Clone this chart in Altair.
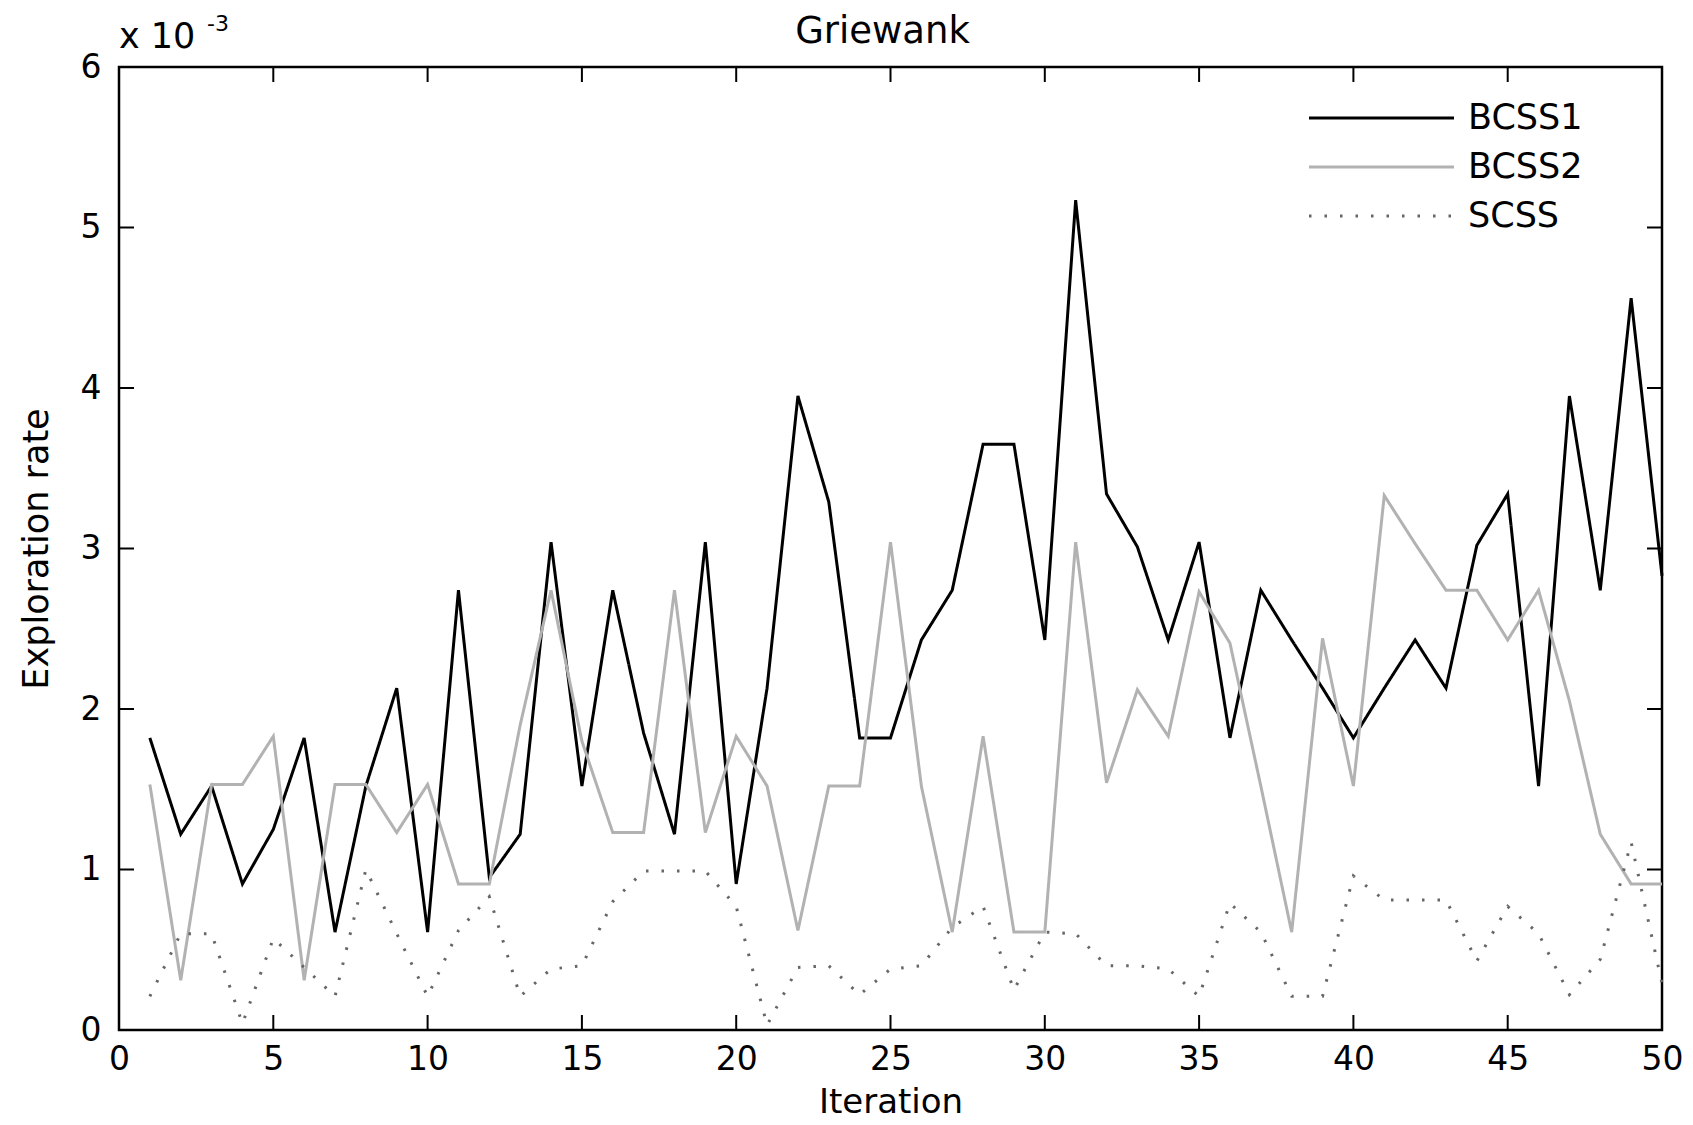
import altair as alt
import pandas as pd

# ---- data (values in units of 1e-3) ----
iterations = list(range(1, 51))
bcss1 = [1.82, 1.22, 1.52, 0.91, 1.25, 1.82, 0.61, 1.52, 2.13, 0.61,
         2.74, 0.95, 1.22, 3.04, 1.52, 2.74, 1.85, 1.22, 3.04, 0.91,
         2.13, 3.95, 3.29, 1.82, 1.82, 2.43, 2.74, 3.65, 3.65, 2.43,
         5.17, 3.34, 3.01, 2.43, 3.04, 1.82, 2.74, 2.43, 2.13, 1.82,
         2.13, 2.43, 2.13, 3.02, 3.34, 1.52, 3.95, 2.74, 4.56, 2.83]
bcss2 = [1.53, 0.31, 1.53, 1.53, 1.83, 0.31, 1.53, 1.53, 1.23, 1.53,
         0.91, 0.91, 1.90, 2.74, 1.80, 1.23, 1.23, 2.74, 1.23, 1.83,
         1.52, 0.62, 1.52, 1.52, 3.04, 1.52, 0.61, 1.83, 0.61, 0.61,
         3.04, 1.54, 2.12, 1.83, 2.73, 2.41, 1.52, 0.61, 2.44, 1.52,
         3.33, 3.03, 2.74, 2.74, 2.43, 2.74, 2.05, 1.22, 0.91, 0.91]
scss = [0.21, 0.60, 0.60, 0.04, 0.57, 0.39, 0.21, 1.00, 0.60, 0.21,
        0.62, 0.83, 0.21, 0.38, 0.40, 0.80, 0.99, 0.99, 0.99, 0.77,
        0.03, 0.39, 0.40, 0.22, 0.38, 0.40, 0.64, 0.77, 0.25, 0.61,
        0.60, 0.40, 0.40, 0.38, 0.21, 0.79, 0.61, 0.21, 0.21, 0.96,
        0.81, 0.81, 0.81, 0.43, 0.77, 0.60, 0.22, 0.44, 1.17, 0.29]
series_names = ["BCSS1", "BCSS2", "SCSS"]
x_ticks = list(range(0, 51, 5))
y_ticks = list(range(0, 7))

W, H = 1543, 963
FONT = "DejaVu Sans"
TICK = 15

rows = []
for name, vals in zip(series_names, [bcss1, bcss2, scss]):
    for it, v in zip(iterations, vals):
        rows.append({"Iteration": it, "rate": v, "series": name})
df = pd.DataFrame(rows)

color_scale = alt.Scale(domain=series_names, range=["#000000", "#b2b2b2", "#666666"])
dash_scale = alt.Scale(domain=series_names, range=[[1, 0], [1, 0], [2.5, 13]])
x_scale = alt.Scale(domain=[0, 50], nice=False, zero=False)
y_scale = alt.Scale(domain=[0, 6], nice=False)

lines = alt.Chart(df).mark_line(strokeWidth=3, strokeCap="butt").encode(
    x=alt.X("Iteration:Q", scale=x_scale,
            axis=alt.Axis(values=x_ticks, ticks=False, domain=False, grid=False,
                          format="d",
                          labelFontSize=33, labelFont=FONT, labelColor="black",
                          labelPadding=13, labelFlush=False, labelOverlap=False,
                          title="Iteration", titleFont=FONT, titleFontSize=34,
                          titleFontWeight="normal", titleColor="black",
                          titleX=W / 2, titleY=72, titleBaseline="middle")),
    y=alt.Y("rate:Q", scale=y_scale,
            axis=alt.Axis(values=y_ticks, ticks=False, domain=False, grid=False,
                          format="d",
                          labelFontSize=33, labelFont=FONT, labelColor="black",
                          labelPadding=18, labelFlush=False, labelOverlap=False,
                          title="Exploration rate", titleFont=FONT, titleFontSize=35,
                          titleFontWeight="normal", titleColor="black",
                          titleX=-83, titleY=H / 2, titleBaseline="middle",
                          titleAngle=270)),
    color=alt.Color("series:N", scale=color_scale, legend=None),
    strokeDash=alt.StrokeDash("series:N", scale=dash_scale, legend=None),
)

xt = pd.DataFrame({"Iteration": x_ticks})
yt = pd.DataFrame({"rate": y_ticks})
rule = dict(color="black", strokeWidth=2)
x_bottom = alt.Chart(xt).mark_rule(**rule).encode(
    x=alt.X("Iteration:Q", scale=x_scale), y=alt.value(H), y2=alt.value(H - TICK))
x_top = alt.Chart(xt).mark_rule(**rule).encode(
    x=alt.X("Iteration:Q", scale=x_scale), y=alt.value(0), y2=alt.value(TICK))
y_left = alt.Chart(yt).mark_rule(**rule).encode(
    y=alt.Y("rate:Q", scale=y_scale), x=alt.value(0), x2=alt.value(TICK))
y_right = alt.Chart(yt).mark_rule(**rule).encode(
    y=alt.Y("rate:Q", scale=y_scale), x=alt.value(W), x2=alt.value(W - TICK))

leg_df = pd.DataFrame({"series": series_names, "idx": [0, 1, 2]})
leg_base = alt.Chart(leg_df).transform_calculate(ly="51 + datum.idx * 49")
leg_lines = leg_base.mark_rule(strokeWidth=3, strokeCap="butt").encode(
    x=alt.value(1190), x2=alt.value(1335),
    y=alt.Y("ly:Q", scale=None, axis=None),
    color=alt.Color("series:N", scale=color_scale, legend=None),
    strokeDash=alt.StrokeDash("series:N", scale=dash_scale, legend=None),
)
leg_text = leg_base.mark_text(align="left", baseline="middle", fontSize=35,
                              font=FONT, color="black").encode(
    x=alt.value(1349), y=alt.Y("ly:Q", scale=None, axis=None), text="series:N")

title_df = pd.DataFrame({"t": ["Griewank"]})
title = alt.Chart(title_df).mark_text(align="center", baseline="alphabetic", fontSize=37,
                                      font=FONT, color="black").encode(
    x=alt.value(W / 2 - 8), y=alt.value(-24), text="t:N")
exp_df = pd.DataFrame({"a": ["x 10"], "b": ["-3"]})
exp_main = alt.Chart(exp_df).mark_text(align="left", baseline="alphabetic", fontSize=35,
                                       font=FONT, color="black").encode(
    x=alt.value(0), y=alt.value(-19), text="a:N")
exp_sup = alt.Chart(exp_df).mark_text(align="left", baseline="alphabetic", fontSize=22,
                                      font=FONT, color="black").encode(
    x=alt.value(88), y=alt.value(-36), text="b:N")

chart = alt.layer(
    lines, x_bottom, x_top, y_left, y_right, leg_lines, leg_text, title, exp_main, exp_sup
).properties(
    width=W, height=H,
    autosize=alt.AutoSizeParams(type="none"),
    padding={"left": 119, "top": 67, "right": 31, "bottom": 95},
    background="white",
).configure_view(stroke="black", strokeWidth=2.5)

chart.save("out.html", embed_options={"renderer": "svg", "actions": False})
